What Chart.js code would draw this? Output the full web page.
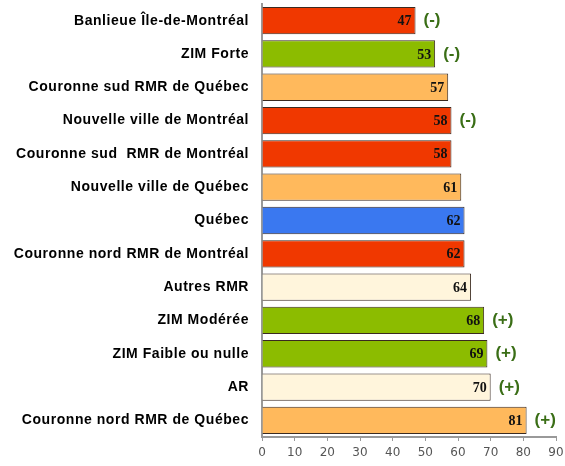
<!DOCTYPE html>
<html>
<head>
<meta charset="utf-8">
<script src="https://cdn.jsdelivr.net/npm/chart.js@4"></script>
<style>
  body { margin: 0; background: #fff; }
  #wrap { width: 565px; height: 466px; }
</style>
</head>
<body>
<div id="wrap"><canvas id="myChart" width="565" height="466"></canvas></div>
<script>
// chart data
const categories = [
  "Banlieue Île-de-Montréal",
  "ZIM Forte",
  "Couronne sud RMR de Québec",
  "Nouvelle ville de Montréal",
  "Couronne sud  RMR de Montréal",
  "Nouvelle ville de Québec",
  "Québec",
  "Couronne nord RMR de Montréal",
  "Autres RMR",
  "ZIM Modérée",
  "ZIM Faible ou nulle",
  "AR",
  "Couronne nord RMR de Québec",
];
const values = [47, 53, 57, 58, 58, 61, 62, 62, 64, 68, 69, 70, 81];
const signs = ["(-)", "(-)", "", "(-)", "", "", "", "", "", "(+)", "(+)", "(+)", "(+)"];
const xTicks = [0, 10, 20, 30, 40, 50, 60, 70, 80, 90];

const RED = "#f03800";
const GREEN = "#8cbc00";
const ORANGE = "#ffb95c";
const BLUE = "#3a78f0";
const PALE = "#fff5dc";
const barColors = [RED, GREEN, ORANGE, RED, RED, ORANGE, BLUE, RED, PALE, GREEN, GREEN, PALE, ORANGE];

// category labels are a bit spread out in the original
const labelSpacing = {
  id: "labelSpacing",
  beforeDraw: (chart) => {
    chart.ctx.letterSpacing = "0.55px";
  },
  beforeDatasetsDraw: (chart) => {
    chart.ctx.letterSpacing = "0px";
  },
};

// draws the value inside each bar and the sign after it
const barLabels = {
  id: "barLabels",
  afterDatasetsDraw: (chart) => {
    const ctx = chart.ctx;
    const meta = chart.getDatasetMeta(0);
    ctx.save();
    ctx.letterSpacing = "0px";
    ctx.textBaseline = "middle";
    meta.data.forEach((bar, i) => {
      ctx.font = "bold 14px 'Liberation Serif', serif";
      ctx.fillStyle = "#111";
      ctx.textAlign = "right";
      ctx.fillText(values[i], bar.x - 4, bar.y + 1);
      if (signs[i]) {
        ctx.font = "bold 17px 'Liberation Sans', Arial, sans-serif";
        ctx.fillStyle = "#3a6e16";
        ctx.textAlign = "left";
        ctx.fillText(signs[i], bar.x + 8, bar.y);
      }
    });
    ctx.restore();
  },
};

new Chart(document.getElementById("myChart"), {
  type: "bar",
  data: {
    labels: categories,
    datasets: [
      {
        data: values,
        backgroundColor: barColors,
        borderColor: "#3a2a20",
        borderWidth: 1,
        borderSkipped: "start",
        barPercentage: 0.82,
        categoryPercentage: 1,
      },
    ],
  },
  options: {
    indexAxis: "y",
    responsive: false,
    animation: false,
    layout: { padding: { top: 4, right: 9, bottom: 0, left: 0 } },
    scales: {
      x: {
        min: 0,
        max: 90,
        afterBuildTicks: (scale) => {
          scale.ticks = xTicks.map((v) => ({ value: v }));
        },
        grid: {
          display: true,
          drawOnChartArea: false,
          drawTicks: true,
          tickLength: 4,
          color: "#999",
          z: 1,
        },
        border: { color: "#999", width: 2, z: 1 },
        ticks: {
          color: "#555",
          padding: 5,
          z: 1,
          font: { family: "'DejaVu Sans', sans-serif", size: 12 },
        },
        afterFit: (scale) => {
          scale.height = 29;
          scale.paddingLeft = 0;
          scale.paddingRight = 0;
        },
      },
      y: {
        grid: { display: false, tickLength: 0 },
        border: { color: "#999", width: 2 },
        ticks: {
          color: "#000",
          padding: 13,
          font: { family: "'Liberation Sans', Arial, sans-serif", size: 14, weight: "bold" },
        },
        afterFit: (scale) => {
          scale.width = 262;
          scale.paddingTop = 0;
          scale.paddingBottom = 0;
        },
      },
    },
    plugins: {
      legend: { display: false },
      tooltip: { enabled: false },
    },
  },
  plugins: [labelSpacing, barLabels],
});
</script>
</body>
</html>
